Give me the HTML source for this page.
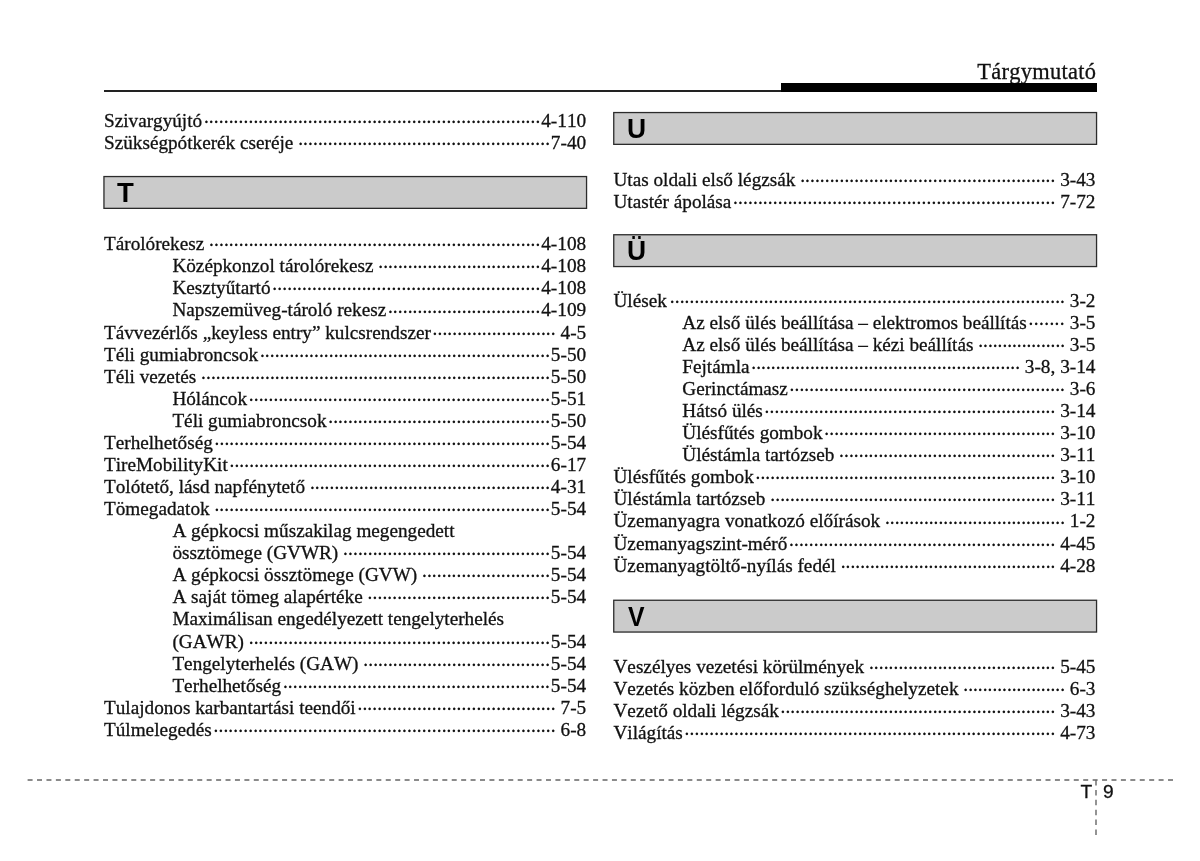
<!DOCTYPE html>
    <html lang="hu"><head><meta charset="utf-8"><title>Tárgymutató</title>
    <style>
html,body{margin:0;padding:0;background:#fff}
body{width:1200px;height:861px;position:relative;overflow:hidden;font-family:"Liberation Serif",serif;color:#111;font-size:19.22px;-webkit-text-stroke:0.3px #111;font-kerning:none;font-variant-ligatures:none}
.r{position:absolute;display:flex;height:22.075px;line-height:22.075px;white-space:nowrap}
.l{flex:none;white-space:pre}
.n{flex:none;font-size:19.3px}
.d{font-size:19px;flex:1 1 0;min-width:0;overflow:hidden;letter-spacing:-1.44px;white-space:nowrap;position:relative;top:1.1px}
.bx{position:absolute;left:0;top:0;width:1200px;height:861px}
.bl{position:absolute;font-family:"Liberation Sans",sans-serif;font-weight:bold;font-size:27.5px;line-height:31px;color:#000;-webkit-text-stroke:0;transform-origin:0 50%}
.title{position:absolute;right:103.7px;top:56.9px;font-size:22.4px;letter-spacing:0.3px;line-height:30px;white-space:nowrap;color:#111}
.thick{position:absolute;left:780.8px;top:83px;width:316.2px;height:8.7px;background:#000}
.thin{position:absolute;left:103.8px;top:90px;width:680px;height:1.8px;background:#222}
.pg{position:absolute;font-family:"Liberation Sans",sans-serif;font-size:19.2px;line-height:22px;top:781.3px;color:#111}
</style></head><body>
    <div class="title">Tárgymutató</div>
    <div class="thin"></div><div class="thick"></div>
<svg class="bx" viewBox="0 0 1200 861"><rect x="103.95" y="176.55" width="482.60" height="31.80" fill="#cbcbcb" stroke="#2b2b2b" stroke-width="1.3"/><rect x="613.75" y="112.55" width="482.80" height="31.80" fill="#cbcbcb" stroke="#2b2b2b" stroke-width="1.3"/><rect x="613.75" y="234.75" width="482.80" height="31.80" fill="#cbcbcb" stroke="#2b2b2b" stroke-width="1.3"/><rect x="613.75" y="600.25" width="482.80" height="31.80" fill="#cbcbcb" stroke="#2b2b2b" stroke-width="1.3"/><line x1="27.6" y1="780" x2="1173" y2="780" stroke="#666" stroke-width="1.4" stroke-dasharray="5 4.425"/><line x1="1096" y1="780" x2="1096" y2="835.3" stroke="#666" stroke-width="1.4" stroke-dasharray="5.5 4.4"/></svg>
<div class="bl" style="left:116.9px;top:176.97px">T</div><div class="bl" style="left:627.1px;top:113.4px;transform:scaleX(0.96)">U</div><div class="bl" style="left:627.1px;top:234.9px;transform:scaleX(0.96)">Ü</div><div class="bl" style="left:628.2px;top:600.5px;transform:scaleX(0.9)">V</div>
    <div class="r" style="top:110.10px;left:104.00px;width:482.20px"><span class="l">Szivargyújtó</span><span class="d" style="margin:0 1.5px 0 1.0px;letter-spacing:-1.378px">····································································</span><span class="n">4-110</span></div>
<div class="r" style="top:132.17px;left:104.00px;width:482.20px"><span class="l">Szükségpótkerék cseréje</span><span class="d" style="margin:0 1.5px 0 4.1px;letter-spacing:-1.387px">···················································</span><span class="n">7-40</span></div>
        <div class="r" style="top:233.20px;left:104.00px;width:482.20px"><span class="l">Tárolórekesz</span><span class="d" style="margin:0 1.5px 0 4.1px;letter-spacing:-1.381px">···································································</span><span class="n">4-108</span></div>
<div class="r" style="top:255.27px;left:172.40px;width:413.80px"><span class="l">Középkonzol tárolórekesz</span><span class="d" style="margin:0 1.5px 0 4.1px;letter-spacing:-1.412px">·································</span><span class="n">4-108</span></div>
<div class="r" style="top:277.35px;left:172.40px;width:413.80px"><span class="l">Kesztyűtartó</span><span class="d" style="margin:0 1.5px 0 1.0px;letter-spacing:-1.361px">······················································</span><span class="n">4-108</span></div>
<div class="r" style="top:299.42px;left:172.40px;width:413.80px"><span class="l">Napszemüveg-tároló rekesz</span><span class="d" style="margin:0 1.5px 0 1.0px;letter-spacing:-1.408px">·······························</span><span class="n">4-109</span></div>
<div class="r" style="top:321.50px;left:104.00px;width:482.20px"><span class="l">Távvezérlős „keyless entry” kulcsrendszer</span><span class="d" style="margin:0 5.5px 0 1.0px;letter-spacing:-1.402px">·························</span><span class="n">4-5</span></div>
<div class="r" style="top:343.57px;left:104.00px;width:482.20px"><span class="l">Téli gumiabroncsok</span><span class="d" style="margin:0 1.5px 0 1.0px;letter-spacing:-1.408px">···························································</span><span class="n">5-50</span></div>
<div class="r" style="top:365.65px;left:104.00px;width:482.20px"><span class="l">Téli vezetés</span><span class="d" style="margin:0 1.5px 0 4.1px;letter-spacing:-1.411px">·······································································</span><span class="n">5-50</span></div>
<div class="r" style="top:387.73px;left:172.40px;width:413.80px"><span class="l">Hóláncok</span><span class="d" style="margin:0 1.5px 0 1.0px;letter-spacing:-1.388px">·····························································</span><span class="n">5-51</span></div>
<div class="r" style="top:409.80px;left:172.40px;width:413.80px"><span class="l">Téli gumiabroncsok</span><span class="d" style="margin:0 1.5px 0 1.0px;letter-spacing:-1.398px">·············································</span><span class="n">5-50</span></div>
<div class="r" style="top:431.88px;left:104.00px;width:482.20px"><span class="l">Terhelhetőség</span><span class="d" style="margin:0 1.5px 0 1.0px;letter-spacing:-1.392px">····································································</span><span class="n">5-54</span></div>
<div class="r" style="top:453.95px;left:104.00px;width:482.20px"><span class="l">TireMobilityKit</span><span class="d" style="margin:0 1.5px 0 1.0px;letter-spacing:-1.395px">·································································</span><span class="n">6-17</span></div>
<div class="r" style="top:476.02px;left:104.00px;width:482.20px"><span class="l">Tolótető, lásd napfénytető</span><span class="d" style="margin:0 1.5px 0 4.1px;letter-spacing:-1.425px">·················································</span><span class="n">4-31</span></div>
<div class="r" style="top:498.10px;left:104.00px;width:482.20px"><span class="l">Tömegadatok</span><span class="d" style="margin:0 1.5px 0 4.1px;letter-spacing:-1.391px">····································································</span><span class="n">5-54</span></div>
<div class="r" style="top:520.17px;left:172.40px;width:413.80px"><span class="l">A gépkocsi műszakilag megengedett</span></div>
<div class="r" style="top:542.25px;left:172.40px;width:413.80px"><span class="l">össztömege (GVWR)</span><span class="d" style="margin:0 1.5px 0 4.1px;letter-spacing:-1.399px">··········································</span><span class="n">5-54</span></div>
<div class="r" style="top:564.33px;left:172.40px;width:413.80px"><span class="l">A gépkocsi össztömege (GVW)</span><span class="d" style="margin:0 1.5px 0 4.1px;letter-spacing:-1.401px">··························</span><span class="n">5-54</span></div>
<div class="r" style="top:586.40px;left:172.40px;width:413.80px"><span class="l">A saját tömeg alapértéke</span><span class="d" style="margin:0 1.5px 0 4.1px;letter-spacing:-1.394px">·····································</span><span class="n">5-54</span></div>
<div class="r" style="top:608.47px;left:172.40px;width:413.80px"><span class="l">Maximálisan engedélyezett tengelyterhelés</span></div>
<div class="r" style="top:630.55px;left:172.40px;width:413.80px"><span class="l">(GAWR)</span><span class="d" style="margin:0 1.5px 0 4.1px;letter-spacing:-1.386px">·····························································</span><span class="n">5-54</span></div>
<div class="r" style="top:652.62px;left:172.40px;width:413.80px"><span class="l">Tengelyterhelés (GAW)</span><span class="d" style="margin:0 1.5px 0 4.1px;letter-spacing:-1.412px">······································</span><span class="n">5-54</span></div>
<div class="r" style="top:674.70px;left:172.40px;width:413.80px"><span class="l">Terhelhetőség</span><span class="d" style="margin:0 1.5px 0 1.0px;letter-spacing:-1.380px">······················································</span><span class="n">5-54</span></div>
<div class="r" style="top:696.77px;left:104.00px;width:482.20px"><span class="l">Tulajdonos karbantartási teendői</span><span class="d" style="margin:0 5.5px 0 1.0px;letter-spacing:-1.370px">········································</span><span class="n">7-5</span></div>
<div class="r" style="top:718.85px;left:104.00px;width:482.20px"><span class="l">Túlmelegedés</span><span class="d" style="margin:0 5.5px 0 1.0px;letter-spacing:-1.367px">·····································································</span><span class="n">6-8</span></div>
        <div class="r" style="top:168.80px;left:613.50px;width:482.00px"><span class="l">Utas oldali első légzsák</span><span class="d" style="margin:0 5.5px 0 4.1px;letter-spacing:-1.419px">····················································</span><span class="n">3-43</span></div>
<div class="r" style="top:190.88px;left:613.50px;width:482.00px"><span class="l">Utastér ápolása</span><span class="d" style="margin:0 5.5px 0 1.0px;letter-spacing:-1.369px">·································································</span><span class="n">7-72</span></div>
        <div class="r" style="top:289.70px;left:613.50px;width:482.00px"><span class="l">Ülések</span><span class="d" style="margin:0 5.5px 0 2.2px;letter-spacing:-1.386px">················································································</span><span class="n">3-2</span></div>
<div class="r" style="top:311.77px;left:682.30px;width:413.20px"><span class="l">Az első ülés beállítása – elektromos beállítás</span><span class="d" style="margin:0 5.5px 0 1.0px;letter-spacing:-1.115px">·······</span><span class="n">3-5</span></div>
<div class="r" style="top:333.85px;left:682.30px;width:413.20px"><span class="l">Az első ülés beállítása – kézi beállítás</span><span class="d" style="margin:0 5.5px 0 4.1px;letter-spacing:-1.509px">··················</span><span class="n">3-5</span></div>
<div class="r" style="top:355.92px;left:682.30px;width:413.20px"><span class="l">Fejtámla</span><span class="d" style="margin:0 5.5px 0 1.0px;letter-spacing:-1.440px">·······················································</span><span class="n">3-8, 3-14</span></div>
<div class="r" style="top:378.00px;left:682.30px;width:413.20px"><span class="l">Gerinctámasz</span><span class="d" style="margin:0 5.5px 0 1.0px;letter-spacing:-1.409px">························································</span><span class="n">3-6</span></div>
<div class="r" style="top:400.07px;left:682.30px;width:413.20px"><span class="l">Hátsó ülés</span><span class="d" style="margin:0 5.5px 0 1.0px;letter-spacing:-1.398px">···························································</span><span class="n">3-14</span></div>
<div class="r" style="top:422.15px;left:682.30px;width:413.20px"><span class="l">Ülésfűtés gombok</span><span class="d" style="margin:0 5.5px 0 1.0px;letter-spacing:-1.411px">···············································</span><span class="n">3-10</span></div>
<div class="r" style="top:444.23px;left:682.30px;width:413.20px"><span class="l">Üléstámla tartózseb</span><span class="d" style="margin:0 5.5px 0 4.1px;letter-spacing:-1.412px">············································</span><span class="n">3-11</span></div>
<div class="r" style="top:466.30px;left:613.50px;width:482.00px"><span class="l">Ülésfűtés gombok</span><span class="d" style="margin:0 5.5px 0 1.0px;letter-spacing:-1.411px">·····························································</span><span class="n">3-10</span></div>
<div class="r" style="top:488.38px;left:613.50px;width:482.00px"><span class="l">Üléstámla tartózseb</span><span class="d" style="margin:0 5.5px 0 4.1px;letter-spacing:-1.412px">··························································</span><span class="n">3-11</span></div>
<div class="r" style="top:510.45px;left:613.50px;width:482.00px"><span class="l">Üzemanyagra vonatkozó előírások</span><span class="d" style="margin:0 5.5px 0 4.1px;letter-spacing:-1.460px">·····································</span><span class="n">1-2</span></div>
<div class="r" style="top:532.52px;left:613.50px;width:482.00px"><span class="l">Üzemanyagszint-mérő</span><span class="d" style="margin:0 5.5px 0 1.0px;letter-spacing:-1.395px">······················································</span><span class="n">4-45</span></div>
<div class="r" style="top:554.60px;left:613.50px;width:482.00px"><span class="l">Üzemanyagtöltő-nyílás fedél</span><span class="d" style="margin:0 5.5px 0 4.1px;letter-spacing:-1.448px">············································</span><span class="n">4-28</span></div>
        <div class="r" style="top:656.00px;left:613.50px;width:482.00px"><span class="l">Veszélyes vezetési körülmények</span><span class="d" style="margin:0 5.5px 0 4.1px;letter-spacing:-1.421px">······································</span><span class="n">5-45</span></div>
<div class="r" style="top:678.08px;left:613.50px;width:482.00px"><span class="l">Vezetés közben előforduló szükséghelyzetek</span><span class="d" style="margin:0 5.5px 0 4.1px;letter-spacing:-1.483px">·····················</span><span class="n">6-3</span></div>
<div class="r" style="top:700.15px;left:613.50px;width:482.00px"><span class="l">Vezető oldali légzsák</span><span class="d" style="margin:0 5.5px 0 1.0px;letter-spacing:-1.419px">························································</span><span class="n">3-43</span></div>
<div class="r" style="top:722.23px;left:613.50px;width:482.00px"><span class="l">Világítás</span><span class="d" style="margin:0 5.5px 0 1.0px;letter-spacing:-1.383px">···········································································</span><span class="n">4-73</span></div>
        <div class="pg" style="left:1080.6px">T</div><div class="pg" style="left:1102.9px">9</div>
    </body></html>
